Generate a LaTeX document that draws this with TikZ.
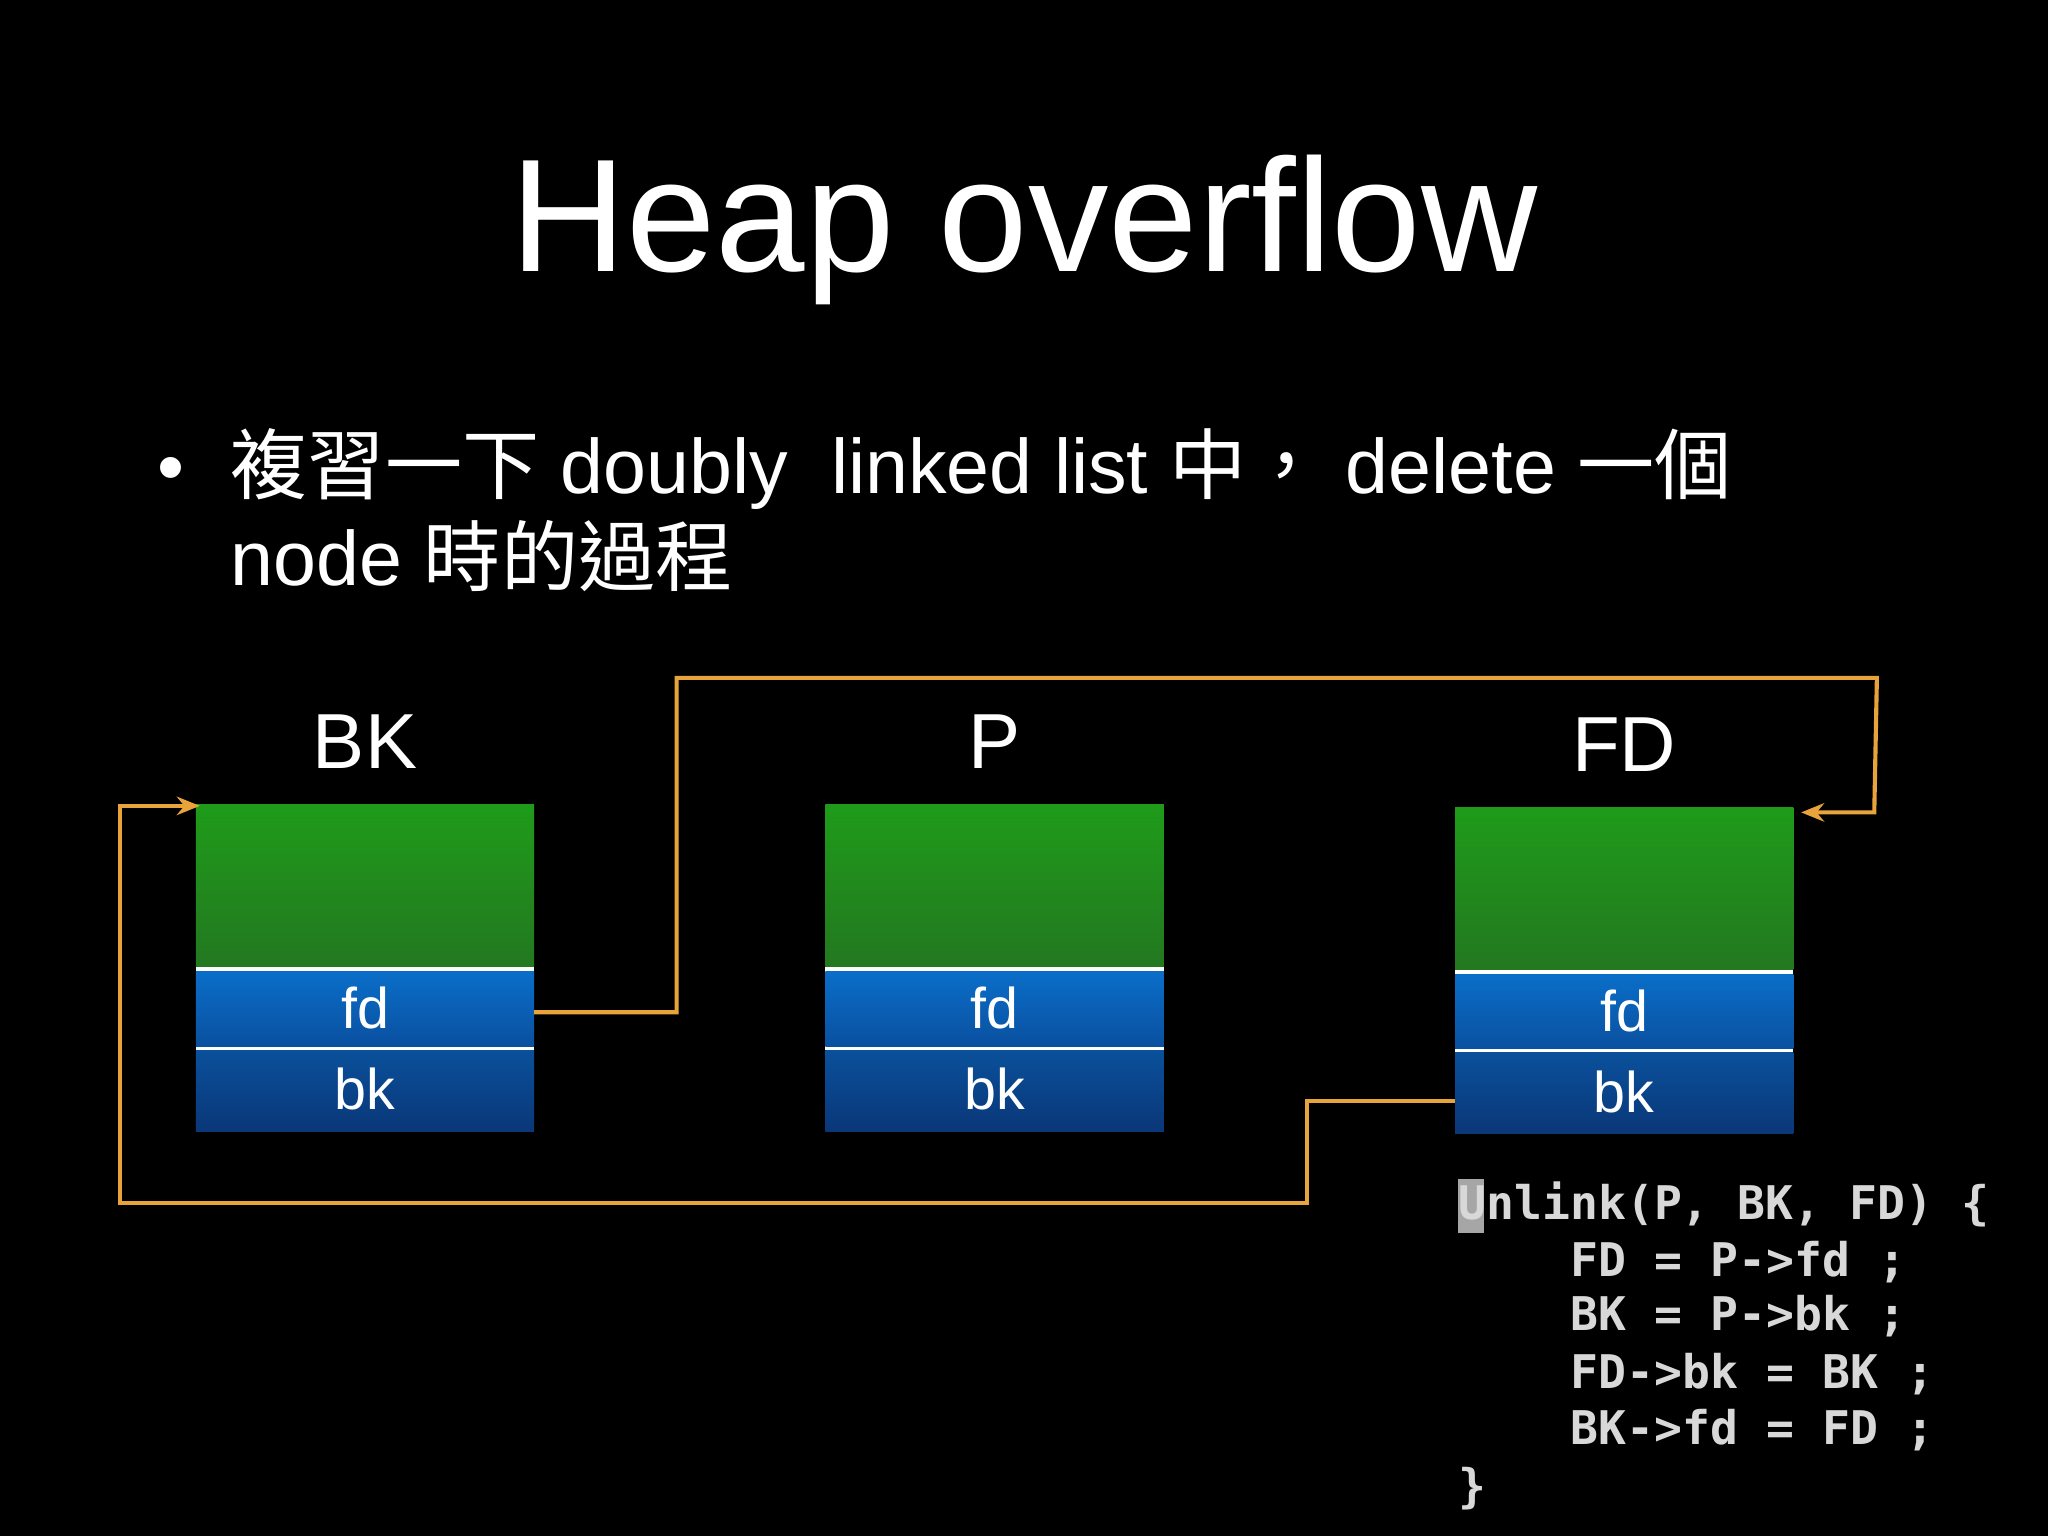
\documentclass[tikz,border=0pt]{standalone}
\usepackage{fontspec}
\setmainfont{Liberation Sans}
\newfontfamily\cjk{Noto Sans CJK TC}
\newfontfamily\codefont{DejaVu Sans Mono}
\usetikzlibrary{arrows.meta}
\definecolor{org}{HTML}{E8A33A}
\definecolor{codecol}{HTML}{D8D8D8}
\tikzset{
  conn/.style={draw=org, line width=0.9pt},
  lbl/.style={text=white, font=\fontsize{12.5}{15}\selectfont},
  hdr/.style={text=white, font=\fontsize{17}{20}\selectfont},
  codeln/.style={anchor=base west, text=codecol, inner sep=0, font=\codefont\bfseries\fontsize{10.1}{12}\selectfont}
}
\begin{document}
\begin{tikzpicture}[x=0.01cm,y=-0.01cm]
\fill[black] (0,0) rectangle (1568,1176);
\useasboundingbox (0,0) rectangle (1568,1176);
\node[anchor=base, text=white, inner sep=0, font=\fontsize{35}{40}\selectfont] (title) at (784,208) {Heap overflow};
\node[anchor=base west, text=white, inner sep=0, font=\fontsize{16.8}{20}\selectfont] (bul) at (120,378) {•};
\node[anchor=base west, text=white, inner sep=0, font=\fontsize{16.8}{20}\selectfont] (l1) at (176,378) {{\cjk 複習一下} doubly\ \ linked list {\cjk 中，} delete {\cjk 一個}};
\node[anchor=base west, text=white, inner sep=0, font=\fontsize{16.8}{20}\selectfont] (l2) at (176,448) {node {\cjk 時的過程}};
% boxes
\foreach \nm/\x/\y/\lab in {bk/150/616/BK, p/632/616/P, fd/1114/618/FD}{
  \fill[white] (\x,\y+124) rectangle ++(259,4);
  \fill[white] (\x,\y+185) rectangle ++(259,3);
  \shade[top color={rgb,255:red,31;green,155;blue,26}, bottom color={rgb,255:red,35;green,120;blue,32}] (\x,\y) rectangle ++(259,124);
  \shade[top color={rgb,255:red,10;green,110;blue,200}, bottom color={rgb,255:red,10;green,80;blue,160}] (\x,\y+128) rectangle ++(259,57);
  \shade[top color={rgb,255:red,10;green,80;blue,155}, bottom color={rgb,255:red,10;green,55;blue,120}] (\x,\y+188) rectangle ++(259,62);
  \node[lbl] (\nm fd) at (\x+129.5,\y+156) {fd};
  \node[lbl] (\nm bk) at (\x+129.5,\y+218) {bk};
  \node[hdr] (\nm h) at (\x+129.5,\y-48) {\lab};
  \coordinate (\nm fdR) at (\x+259,\y+159);
  \coordinate (\nm bkL) at (\x,\y+225);
  \coordinate (\nm tl) at (\x,\y+1);
  \coordinate (\nm tr) at (\x+259,\y+4);
}
\draw[conn, -{Stealth[length=5pt,width=4pt]}] (bkfdR) -- (518,775) -- (518,519) -- (1437,519) -- (1435,622) -- ([xshift=0.06cm]fdtr);
\draw[conn, -{Stealth[length=5pt,width=4pt]}] (fdbkL) -- (1001,843) -- (1001,921) -- (92,921) -- (92,617) -- ([xshift=0.03cm]bktl);
% code
\fill[gray!70] (1116,903) rectangle (1136,944);
\node[codeln] (c1) at (1116,934) {Unlink(P, BK, FD) \{};
\node[codeln] (c2) at (1202,977) {FD = P->fd ;};
\node[codeln] (c3) at (1202,1019) {BK = P->bk ;};
\node[codeln] (c4) at (1202,1063) {FD->bk = BK ;};
\node[codeln] (c5) at (1202,1106) {BK->fd = FD ;};
\node[codeln] (c6) at (1116,1150) {\}};
\end{tikzpicture}
\end{document}
